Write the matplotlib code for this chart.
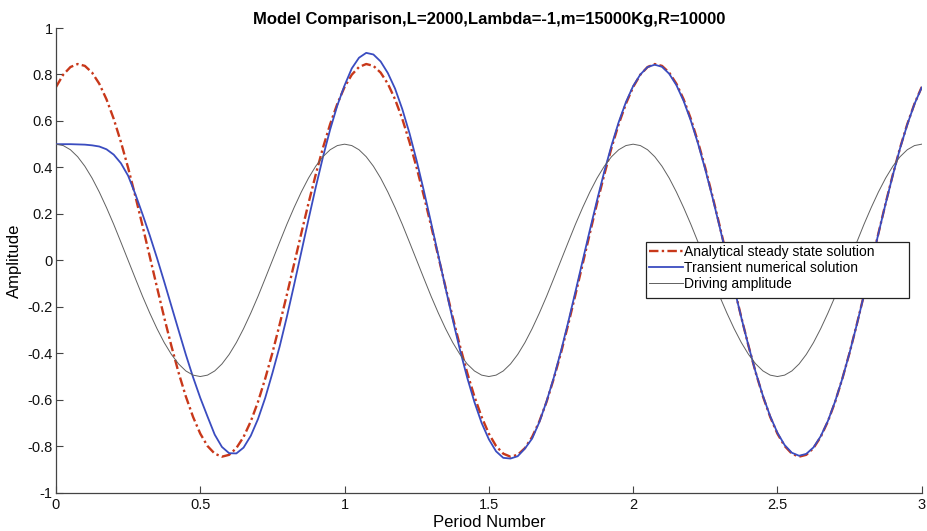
import matplotlib
matplotlib.use("Agg")
import matplotlib.pyplot as plt
from matplotlib.patches import Rectangle

plt.rcParams["font.family"] = ["Liberation Sans", "DejaVu Sans"]

# Time axis in driving periods (step 0.025)
period_number = [round(0.025 * k, 3) for k in range(121)]

# Analytical steady-state response
steady_state = [
    0.746, 0.799, 0.832, 0.845, 0.837, 0.808, 0.760, 0.693, 0.609, 0.509, 0.398,
    0.276, 0.148, 0.016, -0.116, -0.246, -0.369, -0.484, -0.586, -0.674, -0.746, -0.799,
    -0.832, -0.845, -0.837, -0.808, -0.760, -0.693, -0.609, -0.509, -0.398, -0.276, -0.148,
    -0.016, 0.116, 0.246, 0.369, 0.484, 0.586, 0.674, 0.746, 0.799, 0.832, 0.845,
    0.837, 0.808, 0.760, 0.693, 0.609, 0.509, 0.398, 0.276, 0.148, 0.016, -0.116,
    -0.246, -0.369, -0.484, -0.586, -0.674, -0.746, -0.799, -0.832, -0.845, -0.837, -0.808,
    -0.760, -0.693, -0.609, -0.509, -0.398, -0.276, -0.148, -0.016, 0.116, 0.246, 0.369,
    0.484, 0.586, 0.674, 0.746, 0.799, 0.832, 0.845, 0.837, 0.808, 0.760, 0.693,
    0.609, 0.509, 0.398, 0.276, 0.148, 0.016, -0.116, -0.246, -0.369, -0.484, -0.586,
    -0.674, -0.746, -0.799, -0.832, -0.845, -0.837, -0.808, -0.760, -0.693, -0.609, -0.509,
    -0.398, -0.276, -0.148, -0.016, 0.116, 0.246, 0.369, 0.484, 0.586, 0.674, 0.746,
]

# Transient numerical response (starts at rest at 0.5)
transient = [
    0.500, 0.500, 0.500, 0.499, 0.498, 0.495, 0.490, 0.478, 0.455, 0.418, 0.364,
    0.285, 0.198, 0.107, 0.010, -0.092, -0.197, -0.302, -0.406, -0.503, -0.592, -0.672,
    -0.750, -0.803, -0.830, -0.831, -0.806, -0.755, -0.683, -0.592, -0.485, -0.371, -0.243,
    -0.106, 0.035, 0.176, 0.314, 0.444, 0.563, 0.667, 0.753, 0.826, 0.872, 0.893,
    0.886, 0.856, 0.806, 0.739, 0.651, 0.547, 0.428, 0.298, 0.161, 0.021, -0.120,
    -0.256, -0.386, -0.505, -0.610, -0.700, -0.770, -0.822, -0.850, -0.853, -0.843, -0.810,
    -0.767, -0.696, -0.607, -0.505, -0.390, -0.266, -0.135, -0.002, 0.130, 0.259, 0.382,
    0.494, 0.595, 0.681, 0.750, 0.800, 0.832, 0.842, 0.833, 0.803, 0.754, 0.686,
    0.601, 0.502, 0.391, 0.271, 0.143, 0.012, -0.119, -0.247, -0.369, -0.483, -0.584,
    -0.671, -0.742, -0.795, -0.828, -0.841, -0.833, -0.805, -0.757, -0.691, -0.607, -0.509,
    -0.398, -0.277, -0.149, -0.017, 0.115, 0.244, 0.367, 0.482, 0.584, 0.673, 0.744,
]

# Driving amplitude
driving = [
    0.500, 0.494, 0.476, 0.446, 0.405, 0.354, 0.294, 0.227, 0.155, 0.078,
    0.000, -0.078, -0.155, -0.227, -0.294, -0.354, -0.405, -0.446, -0.476, -0.494,
    -0.500, -0.494, -0.476, -0.446, -0.405, -0.354, -0.294, -0.227, -0.155, -0.078,
    0.000, 0.078, 0.155, 0.227, 0.294, 0.354, 0.405, 0.446, 0.476, 0.494,
    0.500, 0.494, 0.476, 0.446, 0.405, 0.354, 0.294, 0.227, 0.155, 0.078,
    0.000, -0.078, -0.155, -0.227, -0.294, -0.354, -0.405, -0.446, -0.476, -0.494,
    -0.500, -0.494, -0.476, -0.446, -0.405, -0.354, -0.294, -0.227, -0.155, -0.078,
    0.000, 0.078, 0.155, 0.227, 0.294, 0.354, 0.405, 0.446, 0.476, 0.494,
    0.500, 0.494, 0.476, 0.446, 0.405, 0.354, 0.294, 0.227, 0.155, 0.078,
    0.000, -0.078, -0.155, -0.227, -0.294, -0.354, -0.405, -0.446, -0.476, -0.494,
    -0.500, -0.494, -0.476, -0.446, -0.405, -0.354, -0.294, -0.227, -0.155, -0.078,
    0.000, 0.078, 0.155, 0.227, 0.294, 0.354, 0.405, 0.446, 0.476, 0.494,
    0.500,
]

series_labels = [
    "Analytical steady state solution",
    "Transient numerical solution",
    "Driving amplitude",
]
x_ticks = [0, 0.5, 1, 1.5, 2, 2.5, 3]
x_tick_labels = ["0", "0.5", "1", "1.5", "2", "2.5", "3"]
y_ticks = [-1, -0.8, -0.6, -0.4, -0.2, 0, 0.2, 0.4, 0.6, 0.8, 1]
y_tick_labels = ["-1", "-0.8", "-0.6", "-0.4", "-0.2", "0", "0.2", "0.4", "0.6", "0.8", "1"]

W, H = 927, 531
fig = plt.figure(figsize=(W / 100, H / 100), dpi=100)
ax = fig.add_axes([56 / W, 1 - 492.7 / H, 865.7 / W, 464.7 / H])

ax.plot(period_number, steady_state, color="#c8381a", lw=1.7,
        ls=(0, (4.0, 1.4, 1.0, 1.4)), label=series_labels[0], zorder=2)
ax.plot(period_number, transient, color="#3a4cc0", lw=1.3,
        label=series_labels[1], zorder=3)
ax.plot(period_number, driving, color="#606060", lw=0.7,
        label=series_labels[2], zorder=4)

ax.set_xlim(0, 3)
ax.set_ylim(-1, 1)
ax.set_xticks(x_ticks)
ax.set_xticklabels(x_tick_labels)
ax.set_yticks(y_ticks)
ax.set_yticklabels(y_tick_labels)

for side in ("top", "right"):
    ax.spines[side].set_visible(False)
for side in ("left", "bottom"):
    ax.spines[side].set_color("#444444")
    ax.spines[side].set_linewidth(0.9)
ax.tick_params(axis="both", direction="in", length=5, width=0.8,
               color="#444444", labelsize=10.5, labelcolor="#111111")
ax.tick_params(axis="x", pad=4)
ax.tick_params(axis="y", pad=2.5)

ax.set_title("Model Comparison,L=2000,Lambda=-1,m=15000Kg,R=10000",
             fontsize=12, fontweight="bold", pad=3)
ax.set_xlabel("Period Number", fontsize=12, labelpad=2)
ax.set_ylabel("Amplitude", fontsize=12, labelpad=4)

# Legend box
box_x0, box_x1 = (646 - 56) / 865.7, (909 - 56) / 865.7
box_y0, box_y1 = (492.7 - 298.3) / 464.7, (492.7 - 241.7) / 464.7
ax.add_patch(Rectangle((box_x0, box_y0), box_x1 - box_x0, box_y1 - box_y0,
                       transform=ax.transAxes, facecolor="white",
                       edgecolor="#222222", lw=0.9, zorder=6))
leg = ax.legend(loc="upper left", bbox_to_anchor=(box_x0, box_y1),
                frameon=False, fontsize=10, borderaxespad=0, borderpad=0.25,
                handlelength=2.4, handletextpad=0.1, labelspacing=0.12)
leg.set_zorder(7)

fig.savefig("out.png", dpi=100)
